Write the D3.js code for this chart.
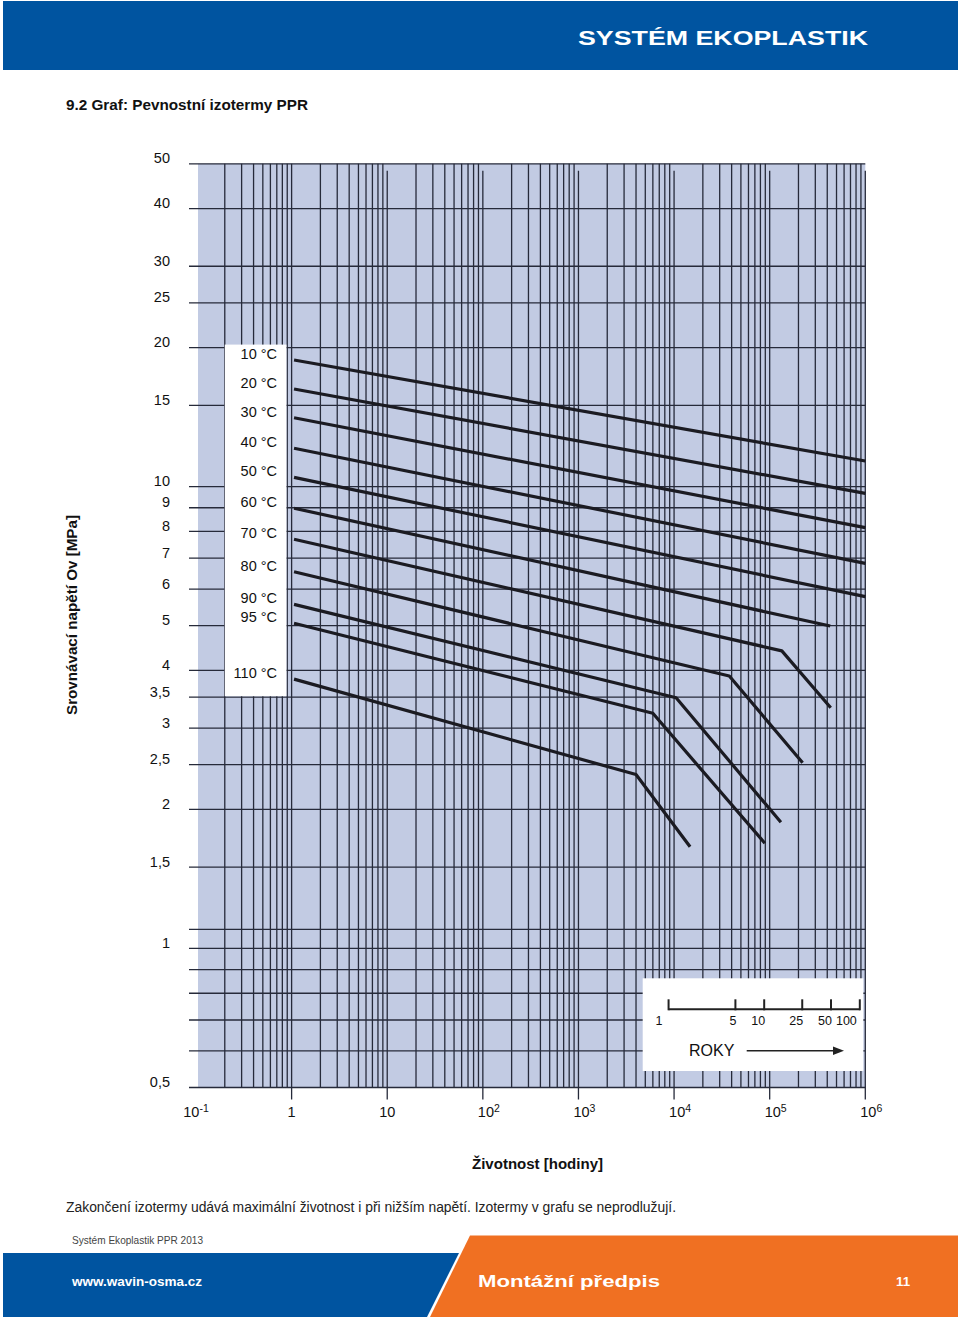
<!DOCTYPE html>
<html><head><meta charset="utf-8">
<script src="https://cdn.jsdelivr.net/npm/d3@7"></script>
<style>body{margin:0;background:#fff} svg{display:block} text{font-family:"Liberation Sans",Arial,Helvetica,sans-serif}</style>
</head><body><svg id="c" width="960" height="1323"></svg>
<script>
// ---- data ----
const temperatures = ["10 °C","20 °C","30 °C","40 °C","50 °C","60 °C","70 °C","80 °C","90 °C","95 °C","110 °C"];
const isoHours = [
  [1.06,1e6],[1.06,1e6],[1.06,1e6],[1.06,1e6],[1.06,1e6],[1.06,4.3e5],
  [1.06,1.34e5,4.35e5],[1.06,3.78e4,2.21e5],[1.06,1.05e4,1.31e5],[1.06,6.0e3,8.9e4],[1.06,4.0e3,1.47e4]];
const isoStress = [
  [18.8,11.36],[16.27,9.67],[14.1,8.15],[12.11,6.82],[10.47,5.78],[8.98,4.99],
  [7.69,4.41,3.32],[6.54,3.89,2.525],[5.56,3.49,1.876],[5.06,3.23,1.69],[3.83,2.38,1.66]];
const yTickValues = [50,40,30,25,20,15,10,9,8,7,6,5,4,3.5,3,2.5,2,1.5,1,0.5];
const yTickLabels = ["50","40","30","25","20","15","10","9","8","7","6","5","4","3,5","3","2,5","2","1,5","1","0,5"];
const yExtraGrid = [1.1,0.9,0.8,0.7,0.6];
const xDecades = [-1,0,1,2,3,4,5,6];
const xTickBase = ["10","1","10","10","10","10","10","10"];
const xTickExp  = ["-1","","","2","3","4","5","6"];
const yearTicks = [1,5,10,25,50,100];
const hoursPerYear = 8760;

// ---- setup ----
const svg = d3.select("#c");
const x = d3.scaleLog().domain([0.1,1e6]).range([196,865.3]);
const y = d3.scaleLog().domain([0.5,50]).range([1087.5,163.8]);
const gridColor = "#262a3a";

// header
svg.append("rect").attr("x",3).attr("y",1).attr("width",955).attr("height",69).attr("fill","#0054a0");
svg.append("text").attr("x",578).attr("y",44.5).attr("fill","#fff").attr("font-weight","bold")
  .attr("font-size",21).attr("textLength",290).attr("lengthAdjust","spacingAndGlyphs").text("SYSTÉM EKOPLASTIK");
svg.append("text").attr("x",66).attr("y",110).attr("fill","#111").attr("font-weight","bold")
  .attr("font-size",14).attr("textLength",242).attr("lengthAdjust","spacingAndGlyphs").text("9.2 Graf: Pevnostní izotermy PPR");

// plot background
svg.append("rect").attr("x",x(0.1)+2).attr("y",y(50)).attr("width",x(1e6)-x(0.1)-2).attr("height",y(0.5)-y(50)).attr("fill","#c2cbe3");

// vertical grid
const vVals = [];
for (let e=-1;e<=5;e++) for (let m=1;m<=9;m++) { if (!(e===-1&&m===1)) vVals.push(m*Math.pow(10,e)); }
vVals.push(1e6);
const g = svg.append("g");
vVals.forEach(v=>{
  const isDec = Math.abs(Math.log10(v)-Math.round(Math.log10(v)))<1e-9;
  const top = (isDec && v>=10) ? y(50)+7 : y(50);
  const bot = isDec ? y(0.5)+12 : y(0.5);
  g.append("line").attr("x1",x(v)).attr("x2",x(v)).attr("y1",top).attr("y2",bot)
   .attr("stroke",gridColor).attr("stroke-width",1.3);
});
// horizontal grid
yTickValues.concat(yExtraGrid).forEach(v=>{
  g.append("line").attr("x1",189).attr("x2",x(1e6)).attr("y1",y(v)).attr("y2",y(v))
   .attr("stroke",gridColor).attr("stroke-width",1.3);
});

// y tick labels
svg.append("g").selectAll("text").data(yTickValues).join("text")
  .attr("x",170).attr("y",d=>y(d)-0.5).attr("text-anchor","end").attr("font-size",14.5).attr("fill","#111")
  .text((d,i)=>yTickLabels[i]);

// x tick labels
xDecades.forEach((e,i)=>{
  const px = x(Math.pow(10,e));
  const t = svg.append("text").attr("y",1117).attr("font-size",14.5).attr("fill","#111");
  if (e>=2) t.attr("x",px-5).attr("text-anchor","start");
  else t.attr("x",px).attr("text-anchor","middle");
  t.append("tspan").text(xTickBase[i]);
  if (xTickExp[i]) t.append("tspan").attr("dy",-5).attr("font-size",10.5).text(xTickExp[i]);
});

// legend box
svg.append("rect").attr("x",x(0.2)).attr("y",y(20)-3).attr("width",x(0.9)-x(0.2)-0.8)
  .attr("height",y(3.5)-1-(y(20)-3)).attr("fill","#fff");
svg.append("g").selectAll("text").data(temperatures).join("text")
  .attr("x",277).attr("y",(d,i)=>y(isoStress[i][0])-1).attr("text-anchor","end")
  .attr("font-size",14.5).attr("fill","#111").text(d=>d);

// isotherms
const line = d3.line().x(d=>x(d[0])).y(d=>y(d[1]));
svg.append("g").selectAll("path").data(temperatures).join("path")
  .attr("d",(d,i)=>line(isoHours[i].map((h,j)=>[h,isoStress[i][j]])))
  .attr("fill","none").attr("stroke","#1b1b22").attr("stroke-width",3.2).attr("stroke-linejoin","round");

// years inset
svg.append("rect").attr("x",642.7).attr("y",978.3).attr("width",220.6).attr("height",92.7).attr("fill","#fff");
const yrY = 1009.3;
svg.append("line").attr("x1",x(yearTicks[0]*hoursPerYear)).attr("x2",x(yearTicks[yearTicks.length-1]*hoursPerYear))
  .attr("y1",yrY).attr("y2",yrY).attr("stroke","#222").attr("stroke-width",2);
yearTicks.forEach(yr=>{
  const px = x(yr*hoursPerYear);
  svg.append("line").attr("x1",px).attr("x2",px).attr("y1",yrY-10).attr("y2",yrY+1).attr("stroke","#222").attr("stroke-width",2);
  svg.append("text").attr("x",yr===1?px-6:(yr===100?px-3:px+1)).attr("y",1025).attr("text-anchor","end")
    .attr("font-size",12.5).attr("fill","#111").text(yr);
});
svg.append("text").attr("x",689).attr("y",1056).attr("font-size",16).attr("fill","#111").text("ROKY");
svg.append("line").attr("x1",746.7).attr("x2",835).attr("y1",1050.7).attr("y2",1050.7).attr("stroke","#222").attr("stroke-width",1.6);
svg.append("path").attr("d","M833,1046.5 L844,1050.7 L833,1054.9 Z").attr("fill","#222");

// axis titles
svg.append("text").attr("transform","translate(77,615) rotate(-90)").attr("text-anchor","middle")
  .attr("font-weight","bold").attr("font-size",14).attr("fill","#111")
  .attr("textLength",200).attr("lengthAdjust","spacingAndGlyphs").text("Srovnávací napětí Ov [MPa]");
svg.append("text").attr("x",472).attr("y",1169).attr("font-weight","bold").attr("font-size",14.5).attr("fill","#111")
  .attr("textLength",131).attr("lengthAdjust","spacingAndGlyphs").text("Životnost [hodiny]");
svg.append("text").attr("x",66).attr("y",1212).attr("font-size",14).attr("fill","#222")
  .attr("textLength",610).attr("lengthAdjust","spacingAndGlyphs")
  .text("Zakončení izotermy udává maximální životnost i při nižším napětí. Izotermy v grafu se neprodlužují.");
svg.append("text").attr("x",72).attr("y",1244).attr("font-size",10.5).attr("fill","#444")
  .attr("textLength",131).attr("lengthAdjust","spacingAndGlyphs").text("Systém Ekoplastik PPR 2013");

// footer
svg.append("path").attr("d","M3,1253 L459,1253 L427,1317 L3,1317 Z").attr("fill","#0054a0");
svg.append("path").attr("d","M470,1235.5 L958,1235.5 L958,1317 L430,1317 Z").attr("fill","#f07022");
svg.append("text").attr("x",72).attr("y",1285.5).attr("font-weight","bold").attr("font-size",12.5).attr("fill","#fff")
  .attr("textLength",130).attr("lengthAdjust","spacingAndGlyphs").text("www.wavin-osma.cz");
svg.append("text").attr("x",478).attr("y",1287).attr("font-weight","bold").attr("font-size",16).attr("fill","#fff")
  .attr("textLength",182).attr("lengthAdjust","spacingAndGlyphs").text("Montážní předpis");
svg.append("text").attr("x",896).attr("y",1285.5).attr("font-weight","bold").attr("font-size",12.5).attr("fill","#fff")
  .attr("textLength",14).attr("lengthAdjust","spacingAndGlyphs").text("11");
</script></body></html>
